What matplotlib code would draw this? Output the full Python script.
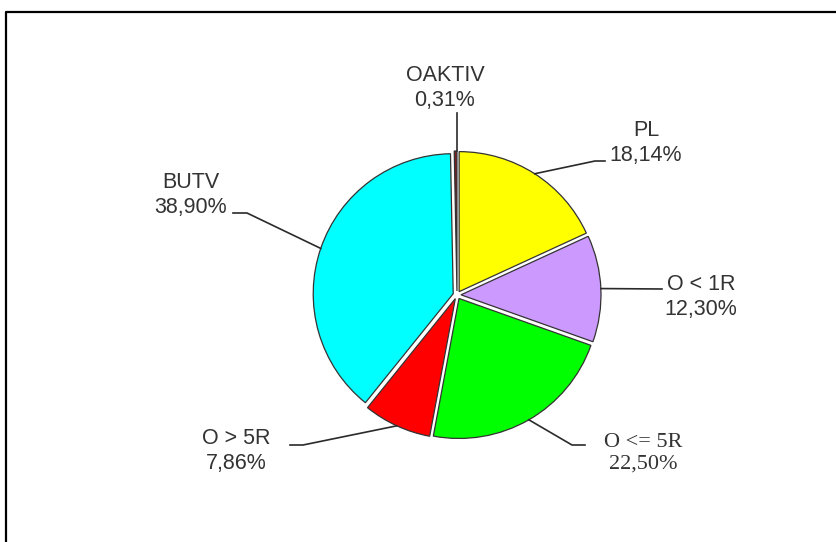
import numpy as np
import matplotlib.pyplot as plt

labels = ['PL', 'O < 1R', 'O <= 5R', 'O > 5R', 'BUTV', 'OAKTIV']
shares = [18.14, 12.30, 22.50, 7.86, 38.90, 0.31]
pct_text = ['18,14%', '12,30%', '22,50%', '7,86%', '38,90%', '0,31%']
colors = ['#FFFF00', '#CC99FF', '#00FF00', '#FF0000', '#00FFFF', '#7A1F1F']

# label layout in pixel coords (y up): text block centre, then leader line end points
text_pos = [(646, 399), (701, 245), (643, 89), (236, 91), (191, 347), (445, 454)]
line_end = [(605, 381), (662, 253), (585, 97), (290, 97), (233, 329), (457, 429)]
flat = [10, 0, 13, 13, 14, 0]
fonts = ['Liberation Sans'] * 6
fonts[2] = 'Liberation Serif'
sizes = [15.5] * 6
sizes[2] = 16

fig = plt.figure(figsize=(8.37, 5.42), dpi=100)
ax = fig.add_axes([0, 0, 1, 1])

wedges, _ = ax.pie(shares, colors=colors, startangle=90, counterclock=False,
                   center=(457, 247), radius=140, explode=[4] * 6,
                   wedgeprops=dict(edgecolor='#333333', linewidth=0.9),
                   frame=True)
ax.set_xlim(0, 837)
ax.set_ylim(0, 542)
ax.set_aspect('equal')
ax.axis('off')

for w, lab, pct, tp, le, fl, fn, fs in zip(wedges, labels, pct_text, text_pos,
                                          line_end, flat, fonts, sizes):
    mid = np.deg2rad((w.theta1 + w.theta2) / 2)
    cx, cy = w.center
    ex, ey = cx + w.r * np.cos(mid), cy + w.r * np.sin(mid)
    if lab == 'OAKTIV':
        xs, ys = [le[0], le[0]], [ey, le[1]]
    elif le[0] > cx:
        xs, ys = [ex, le[0] - fl, le[0]], [ey, le[1], le[1]]
    else:
        xs, ys = [ex, le[0] + fl, le[0]], [ey, le[1], le[1]]
    ax.plot(xs, ys, color='#2a2a2a', lw=1.2)
    ax.text(tp[0], tp[1], lab + '\n' + pct, ha='center', va='center',
            fontsize=fs, family=fn, color='#333333', linespacing=1.2)

# frame around chart
ax.plot([6, 6, 900], [-10, 530, 530], color='black', lw=1.6, clip_on=False)

fig.savefig('out.png', dpi=100)
